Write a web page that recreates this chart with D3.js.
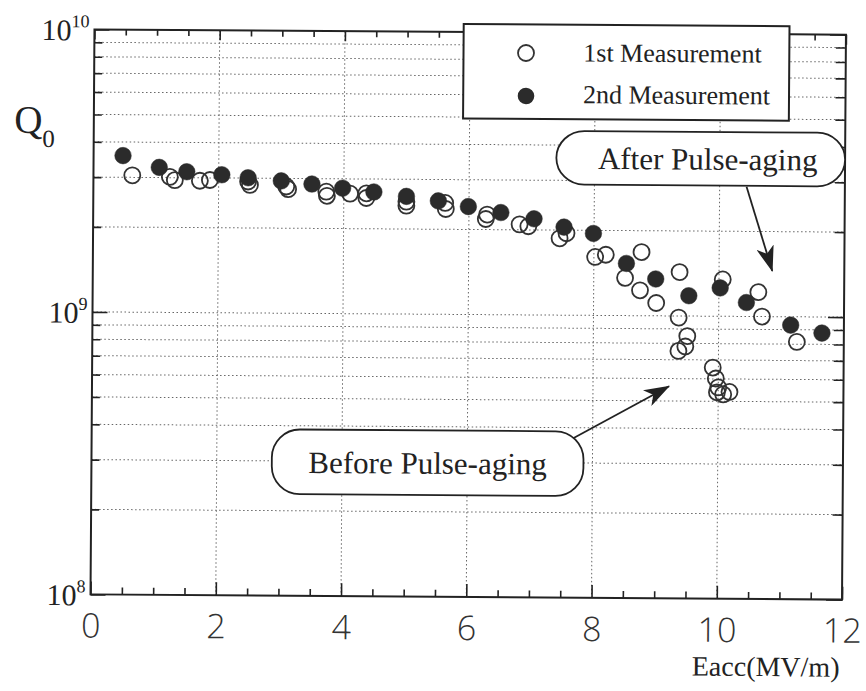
<!DOCTYPE html>
<html>
<head>
<meta charset="utf-8">
<script src="https://cdn.jsdelivr.net/npm/d3@7/dist/d3.min.js"></script>
<style>
  html, body { margin: 0; padding: 0; background: #fff; }
  svg { display: block; }
</style>
</head>
<body>
<svg id="chart" width="866" height="691"></svg>
<script>
// ---------- data ----------
// 1st Measurement (open circles)
const firstE = [0.62, 1.22, 1.30, 1.70, 1.86, 2.47, 2.50, 3.08, 3.11, 3.72, 3.73, 4.10, 4.36, 4.36,
  5.00, 5.00, 5.62, 5.63, 6.29, 6.27, 6.81, 6.95, 7.56, 7.45, 8.02, 8.19, 8.76, 8.50, 8.74, 9.00,
  9.37, 9.36, 9.50, 9.47, 9.36, 10.06, 10.63, 10.69, 11.25, 9.91, 9.96, 10.00, 9.98, 10.08, 10.18];
const firstQ = [3.05e9, 3.02e9, 2.94e9, 2.93e9, 2.95e9, 2.92e9, 2.84e9, 2.81e9, 2.75e9, 2.70e9, 2.61e9, 2.66e9, 2.67e9, 2.57e9,
  2.50e9, 2.42e9, 2.48e9, 2.36e9, 2.26e9, 2.18e9, 2.09e9, 2.06e9, 1.95e9, 1.87e9, 1.61e9, 1.64e9, 1.68e9, 1.36e9, 1.23e9, 1.11e9,
  1.43e9, 9.87e8, 8.49e8, 7.80e8, 7.52e8, 1.35e9, 1.22e9, 1.00e9, 8.15e8, 6.58e8, 6.02e8, 5.60e8, 5.38e8, 5.29e8, 5.40e8];
// 2nd Measurement (filled circles)
const secondE = [0.47, 1.05, 1.49, 2.05, 2.47, 3.00, 3.49, 3.98, 4.48, 5.00, 5.51, 5.99, 6.51, 7.04, 7.52,
  7.99, 8.52, 8.99, 9.52, 10.02, 10.44, 11.15, 11.65];
const secondQ = [3.58e9, 3.26e9, 3.15e9, 3.08e9, 3.01e9, 2.94e9, 2.87e9, 2.78e9, 2.70e9, 2.61e9, 2.52e9, 2.41e9, 2.30e9, 2.19e9, 2.05e9,
  1.95e9, 1.53e9, 1.35e9, 1.18e9, 1.26e9, 1.12e9, 9.34e8, 8.77e8];

const seriesNames = ["1st Measurement", "2nd Measurement"];
const xMajorTicks = [0, 2, 4, 6, 8, 10, 12];
const xMinorTicks = [0.5, 1, 1.5, 2.5, 3, 3.5, 4.5, 5, 5.5, 6.5, 7, 7.5, 8.5, 9, 9.5, 10.5, 11, 11.5];
const yMajorTicks = [1e8, 1e9, 1e10];
const yMinorTicks = [2e8, 3e8, 4e8, 5e8, 6e8, 7e8, 8e8, 9e8, 2e9, 3e9, 4e9, 5e9, 6e9, 7e9, 8e9, 9e9];
const yExponents = [8, 9, 10];
const xGridValues = [2, 4, 6, 8, 10];
const xTitle = "Eacc(MV/m)";

// annotation anchors in data units
const annotLabels = ["After Pulse-aging", "Before Pulse-aging"];
const annotBoxE = [[7.39, 12.0], [2.88, 7.856]];
const annotBoxQ = [[4.49e9, 2.90e9], [3.88e8, 2.29e8]];
const annotFromE = [10.43, 7.69];
const annotFromQ = [2.88e9, 3.67e8];
const annotToE = [10.85, 9.215];
const annotToQ = [1.45e9, 5.64e8];

// ---------- layout ----------
const L = 92.5, R = 844, T = 32, B = 597;
const ink = "#222";
const serif = "'Liberation Serif', 'Times New Roman', serif";
const sans = "'Open Sans', 'Liberation Sans', sans-serif";

const svg = d3.select("#chart");
const root = svg.append("g").attr("transform", "rotate(0.4, 467, 313)");

const x = d3.scaleLinear().domain([0, 12]).range([L, R]);
const y = d3.scaleLog().domain([1e8, 1e10]).range([B, T]);

// ---------- grid ----------
const grid = root.append("g")
  .attr("stroke", "#666").attr("stroke-width", 1).attr("stroke-dasharray", "1.5,2.5").attr("fill", "none");
grid.selectAll("line.h").data(yMinorTicks.concat([1e9])).join("line")
  .attr("class", "h")
  .attr("x1", L).attr("x2", R)
  .attr("y1", d => y(d)).attr("y2", d => y(d));
grid.selectAll("line.v").data(xGridValues).join("line")
  .attr("class", "v")
  .attr("y1", T).attr("y2", B)
  .attr("x1", d => x(d)).attr("x2", d => x(d));

// ---------- axes ----------
function styleAxis(g) {
  g.select(".domain").remove();
  g.selectAll(".tick line").attr("stroke", ink).attr("stroke-width", 1.6);
}
root.append("g").attr("transform", `translate(0,${B})`)
  .call(d3.axisBottom(x).tickValues(xMinorTicks).tickSizeInner(-7).tickSizeOuter(0).tickFormat(""))
  .call(styleAxis);
const xAxisG = root.append("g").attr("transform", `translate(0,${B})`)
  .call(d3.axisBottom(x).tickValues(xMajorTicks).tickSizeInner(-13).tickSizeOuter(0).tickPadding(19).tickFormat(d3.format("d")))
  .call(styleAxis);
xAxisG.selectAll(".tick text")
  .attr("font-family", sans).attr("font-weight", 300).attr("font-size", 34).attr("fill", "#333");

root.append("g").attr("transform", `translate(0,${T})`)
  .call(d3.axisTop(x).tickValues(xMinorTicks).tickSizeInner(-6).tickSizeOuter(0).tickFormat(""))
  .call(styleAxis);
root.append("g").attr("transform", `translate(0,${T})`)
  .call(d3.axisTop(x).tickValues(xMajorTicks).tickSizeInner(-10).tickSizeOuter(0).tickFormat(""))
  .call(styleAxis);

root.append("g").attr("transform", `translate(${L},0)`)
  .call(d3.axisLeft(y).tickValues(yMinorTicks).tickSizeInner(-8).tickSizeOuter(0).tickFormat(""))
  .call(styleAxis);
root.append("g").attr("transform", `translate(${L},0)`)
  .call(d3.axisLeft(y).tickValues(yMajorTicks).tickSizeInner(-15).tickSizeOuter(0).tickFormat(""))
  .call(styleAxis);
root.append("g").attr("transform", `translate(${R},0)`)
  .call(d3.axisRight(y).tickValues(yMinorTicks).tickSizeInner(-10).tickSizeOuter(0).tickFormat(""))
  .call(styleAxis);
root.append("g").attr("transform", `translate(${R},0)`)
  .call(d3.axisRight(y).tickValues(yMajorTicks).tickSizeInner(-16).tickSizeOuter(0).tickFormat(""))
  .call(styleAxis);

// frame
root.append("rect")
  .attr("x", L).attr("y", T).attr("width", R - L).attr("height", B - T)
  .attr("fill", "none").attr("stroke", ink).attr("stroke-width", 2);

// y tick labels 10^n
const yLab = root.append("g").attr("font-family", serif).attr("fill", ink);
yMajorTicks.forEach((v, i) => {
  const t = yLab.append("text")
    .attr("x", L - 5).attr("y", y(v) + 11)
    .attr("text-anchor", "end").attr("font-size", 30);
  t.append("tspan").text("10");
  t.append("tspan").attr("font-size", 18).attr("dy", -13).text(yExponents[i]);
});

// y title Q0
const qt = root.append("text").attr("x", 13).attr("y", 136)
  .attr("font-family", serif).attr("font-size", 39).attr("fill", ink);
qt.append("tspan").text("Q");
qt.append("tspan").attr("font-size", 25).attr("dy", 14).text("0");

// x title
root.append("text").attr("x", 842).attr("y", 674)
  .attr("text-anchor", "end")
  .attr("font-family", serif).attr("font-size", 28).attr("fill", ink)
  .text(xTitle);

// ---------- points ----------
const firstPts = firstE.map((e, i) => ({ e, q: firstQ[i] }));
const secondPts = secondE.map((e, i) => ({ e, q: secondQ[i] }));

root.append("g").selectAll("circle").data(firstPts).join("circle")
  .attr("cx", d => x(d.e)).attr("cy", d => y(d.q)).attr("r", 8)
  .attr("fill", "none").attr("stroke", "#333").attr("stroke-width", 1.8);
root.append("g").selectAll("circle").data(secondPts).join("circle")
  .attr("cx", d => x(d.e)).attr("cy", d => y(d.q)).attr("r", 8.3)
  .attr("fill", "#2b2b2b").attr("stroke", "#2b2b2b").attr("stroke-width", 0.5);

// ---------- annotations ----------
const defs = svg.append("defs");
defs.append("marker")
  .attr("id", "head").attr("markerUnits", "userSpaceOnUse")
  .attr("viewBox", "0 0 26 18").attr("markerWidth", 26).attr("markerHeight", 18)
  .attr("refX", 25).attr("refY", 9).attr("orient", "auto")
  .append("path").attr("d", "M0,0 L26,9 L0,18 L7,9 Z").attr("fill", ink);

annotLabels.forEach((lab, i) => {
  const x0 = x(annotBoxE[i][0]), x1 = x(annotBoxE[i][1]);
  const y0 = y(annotBoxQ[i][0]), y1 = y(annotBoxQ[i][1]);
  root.append("line")
    .attr("x1", x(annotFromE[i])).attr("y1", y(annotFromQ[i]))
    .attr("x2", x(annotToE[i])).attr("y2", y(annotToQ[i]))
    .attr("stroke", ink).attr("stroke-width", 1.8)
    .attr("marker-end", "url(#head)");
  root.append("rect")
    .attr("x", x0).attr("y", y0).attr("width", x1 - x0).attr("height", y1 - y0)
    .attr("rx", 28).attr("ry", 28)
    .attr("fill", "#fff").attr("stroke", ink).attr("stroke-width", 1.8);
  root.append("text")
    .attr("x", (x0 + x1) / 2 + (i === 0 ? 7 : 0)).attr("y", (y0 + y1) / 2 + 11)
    .attr("text-anchor", "middle")
    .attr("font-family", serif).attr("font-size", 31).attr("fill", ink)
    .text(lab);
});

// ---------- legend ----------
const lg = root.append("g");
lg.append("rect").attr("x", 461.7).attr("y", 24).attr("width", 325.8).attr("height", 94.5)
  .attr("fill", "#fff").attr("stroke", ink).attr("stroke-width", 2);
lg.append("circle").attr("cx", 524.2).attr("cy", 52.6).attr("r", 8)
  .attr("fill", "none").attr("stroke", "#333").attr("stroke-width", 1.8);
lg.append("circle").attr("cx", 524.5).attr("cy", 95.6).attr("r", 8.3)
  .attr("fill", "#2b2b2b");
lg.selectAll("text").data(seriesNames).join("text")
  .attr("x", 581.5).attr("y", (d, i) => i === 0 ? 60.6 : 102.4)
  .attr("font-family", serif).attr("font-size", 26).attr("fill", ink)
  .text(d => d);
</script>
</body>
</html>
